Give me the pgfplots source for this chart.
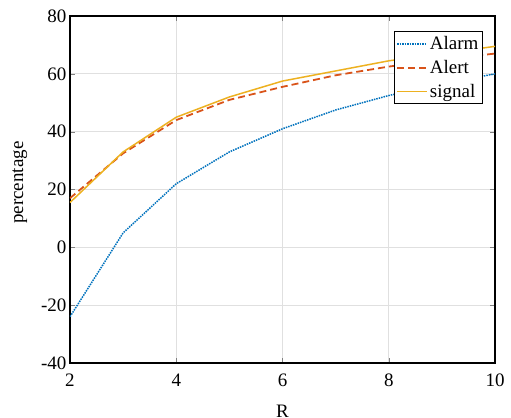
\documentclass[border=0pt]{standalone}
\usepackage{pgfplots}
\pgfplotsset{compat=1.18}
\usepackage{fontspec}
\setmainfont{Liberation Serif}

\definecolor{mblue}{rgb}{0,0.447,0.741}
\definecolor{morange}{rgb}{0.85,0.325,0.098}
\definecolor{myellow}{rgb}{0.929,0.694,0.125}

% longer legend samples, as in the MATLAB figure
\pgfplotsset{
    legend image code/.code={%
        \draw[#1] (0pt,0pt) -- (30pt,0pt);},
}

\begin{document}
\begin{tikzpicture}
\begin{axis}[
    scale only axis,
    width=425pt, height=347pt,
    xmin=2, xmax=10, ymin=-40, ymax=80,
    xtick={2,4,...,10},
    ytick={-40,-20,...,80},
    font=\fontsize{19}{22}\selectfont,
    /pgf/number format/assume math mode=true,
    xlabel={R}, ylabel={percentage},
    xlabel style={at={(axis description cs:0.5,-0.138)}, anchor=center},
    ylabel style={at={(axis description cs:-0.118,0.52)}, anchor=center},
    xticklabel style={yshift=-7pt},
    grid=major,
    major grid style={black!12, line width=0.7pt},
    tick align=inside,
    major tick length=5pt,
    axis line style={line width=1.2pt},
    legend style={at={(0.972,0.9565)}, anchor=north east,
        draw=black, line width=1.2pt, fill=white,
        font=\fontsize{19}{22}\selectfont,
        row sep=5pt, inner xsep=2pt, inner ysep=3pt},
    legend cell align=left,
]
\addplot[color=mblue, line width=1.5pt, densely dotted] coordinates {
    (2,-24) (3,5) (4,22) (5,33) (6,41) (7,47.5) (8,52.5) (9,56.5) (10,60)
};
\addlegendentry{Alarm}
\addplot[color=morange, line width=1.8pt, dash pattern=on 7pt off 4pt] coordinates {
    (2,17) (3,32.5) (4,44) (5,51) (6,55.5) (7,59.5) (8,62.5) (9,65) (10,67)
};
\addlegendentry{Alert}
\addplot[color=myellow, line width=1.5pt] coordinates {
    (2,15.5) (3,33) (4,45) (5,52) (6,57.5) (7,61) (8,64.5) (9,67) (10,69.5)
};
\addlegendentry{signal}
\end{axis}
\pgfresetboundingbox
\path (current axis.south west) ++(-70pt,-54pt) coordinate (bbA);
\path (current axis.north east) ++(16pt,16pt) coordinate (bbB);
\useasboundingbox (bbA) rectangle (bbB);
\end{tikzpicture}
\end{document}
